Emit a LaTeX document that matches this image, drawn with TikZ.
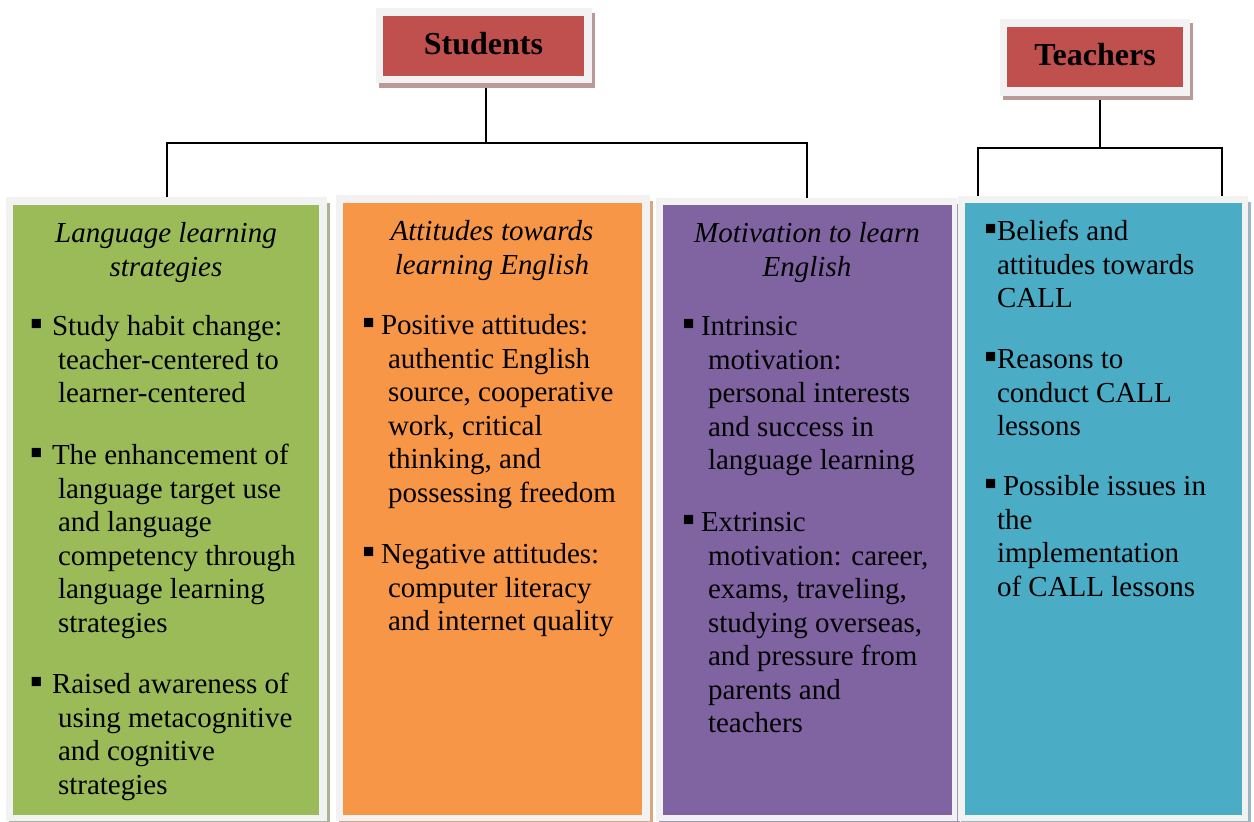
\documentclass[tikz,border=0pt]{standalone}
\usepackage{fontspec}
\setmainfont{Liberation Serif}
\newlength\px
\setlength\px{0.5pt}
\definecolor{framegray}{HTML}{F2F2F2}
\definecolor{hdrred}{HTML}{C0504D}
\definecolor{hdrshadow}{HTML}{BA9A99}
\definecolor{colgreen}{HTML}{9BBB59}
\definecolor{colorange}{HTML}{F79646}
\definecolor{colpurple}{HTML}{8064A2}
\definecolor{colteal}{HTML}{4BACC6}
\definecolor{shgreen}{HTML}{A9B494}
\definecolor{shorange}{HTML}{D8A67F}
\definecolor{shpurple}{HTML}{A095B4}
\definecolor{shteal}{HTML}{9AB8C2}
% bullet: shift back by #1 px, reserve #2 px for the square
\newcommand\bul[2]{\hspace*{-#1\px}\makebox[#2\px][l]{{\fontsize{18.5}{16.75}\selectfont ▪}}}
\newcommand\bodyfont{\fontsize{14.5}{16.75}\selectfont}
\begin{document}
\begin{tikzpicture}[x=0.5pt,y=-0.5pt,
  panel/.style={anchor=north west, inner sep=0pt, outer sep=0pt, draw=none},
  txt/.style={anchor=north west, inner sep=0pt, outer sep=0pt, align=left, font=\bodyfont},
  ttl/.style={anchor=north, inner sep=0pt, outer sep=0pt, align=center, font=\bodyfont\itshape},
  hdr/.style={panel, fill=hdrred, font=\fontsize{16}{19}\selectfont\bfseries,
              text height=11pt, text depth=2.5pt},
  conn/.style={draw=black, line width=1pt}]
\useasboundingbox (0,0) rectangle (1254,821);

% ---- column frames (named, used by the connectors) ----
\fill[shgreen]  (9,203) rectangle ++(321,624);
\fill[shorange] (339,201) rectangle ++(314,626);
\fill[shpurple] (659,204) rectangle ++(301,623);
\fill[shteal]   (961,202) rectangle ++(290,625);
\node[panel, fill=framegray, minimum width=321\px, minimum height=624\px] (c1) at (6,197) {};
\node[panel, fill=framegray, minimum width=314\px, minimum height=626\px] (c2) at (336,195) {};
\node[panel, fill=framegray, minimum width=301\px, minimum height=623\px] (c3) at (656,198) {};
\node[panel, fill=framegray, minimum width=290\px, minimum height=625\px] (c4) at (958,196) {};
\node[panel, fill=colgreen,  minimum width=306\px, minimum height=610\px] (b1) at (13,205) {};
\node[panel, fill=colorange, minimum width=299\px, minimum height=612\px] (b2) at (343,203) {};
\node[panel, fill=colpurple, minimum width=289\px, minimum height=610\px] (b3) at (663,205) {};
\node[panel, fill=colteal,   minimum width=277\px, minimum height=612\px] (b4) at (965,203) {};

% ---- connectors ----
\coordinate (sj) at (486,143);
\coordinate (tj) at (1100,148);
\coordinate (tl) at (978,196);
\coordinate (tr) at (1222,196);
\node[panel, minimum width=216\px, minimum height=75\px] (stuF) at (376,8) {};
\node[panel, minimum width=190\px, minimum height=77\px] (teaF) at (1000,19) {};
\draw[conn] (stuF.south -| sj) -- (sj);
\draw[conn] (c1.north) |- (sj) -| (c3.north);
\draw[conn] (teaF.south -| tj) -- (tj);
\draw[conn] (tl) |- (tj) -| (tr);

% ---- headers ----
\fill[hdrshadow] (379,13) rectangle ++(216,75);
\fill[hdrshadow] (1003,23) rectangle ++(190,77);
\fill[framegray] (stuF.north west) rectangle (stuF.south east);
\fill[framegray] (teaF.north west) rectangle (teaF.south east);
\node[hdr, minimum width=201\px, minimum height=60\px] (stu) at (383,16) {Students};
\node[hdr, minimum width=176\px, minimum height=60\px] (tea) at (1007,27) {Teachers};

% ---- Language learning strategies ----
\node[ttl] (t1) at (166,219.5) {\strut Language learning\\strategies};
\node[txt] (g1a) at (58,312.5) {\strut\bul{28}{22}Study habit change:\\teacher-centered to\\learner-centered};
\node[txt] (g1b) at (58,441.5) {\strut\bul{28}{22}The enhancement of\\language target use\\and language\\competency through\\language learning\\strategies};
\node[txt] (g1c) at (58,670.5) {\strut\bul{28}{22}Raised awareness of\\using metacognitive\\and cognitive\\strategies};

% ---- Attitudes towards learning English ----
\node[ttl] (t2) at (492,217.5) {\strut Attitudes towards\\learning English};
\node[txt] (o1a) at (388,311.5) {\strut\bul{26}{19}Positive attitudes:\\authentic English\\source, cooperative\\work, critical\\thinking, and\\possessing freedom};
\node[txt] (o1b) at (388,540.5) {\strut\bul{26}{19}Negative attitudes:\\computer literacy\\and internet quality};

% ---- Motivation to learn English ----
\node[ttl] (t3) at (807,219.5) {\strut Motivation to learn\\English};
\node[txt] (p1a) at (708,312.5) {\strut\bul{26}{19}Intrinsic\\motivation:\\personal interests\\and success in\\language learning};
\node[txt] (p1b) at (708,508.5) {\strut\bul{26}{19}Extrinsic\\motivation: career,\\exams, traveling,\\studying overseas,\\and pressure from\\parents and\\teachers};

% ---- Teachers ----
\node[txt] (q1a) at (997,217.5) {\strut\bul{13}{13}Beliefs and\\attitudes towards\\CALL};
\node[txt] (q1b) at (997,345.5) {\strut\bul{13}{13}Reasons to\\conduct CALL\\lessons};
\node[txt] (q1c) at (997,472.5) {\strut\bul{13}{19}Possible issues in\\the\\implementation\\of CALL lessons};
\end{tikzpicture}
\end{document}
